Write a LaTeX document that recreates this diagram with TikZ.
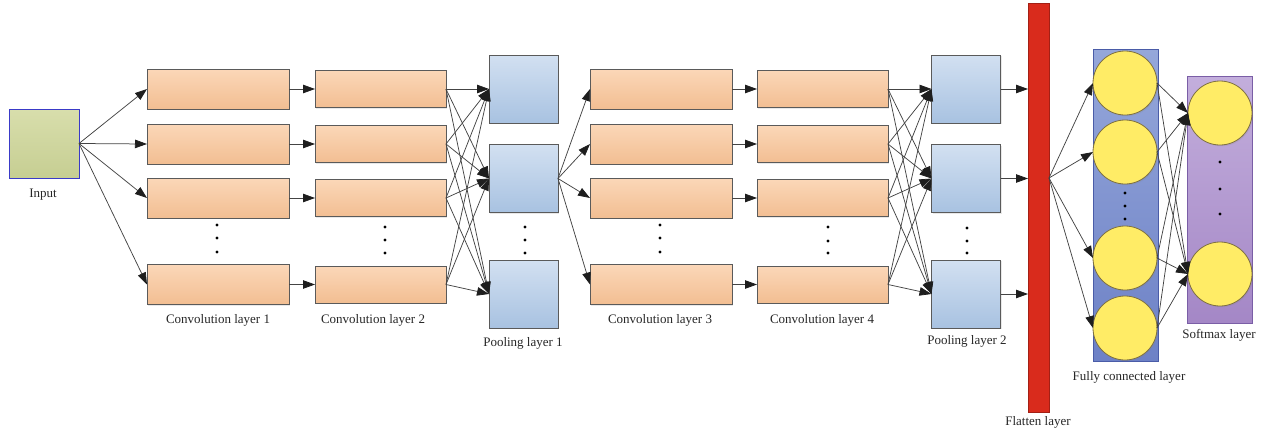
\documentclass[tikz,border=0pt]{standalone}
\usepackage{fontspec}
\setmainfont{Liberation Serif}
\usetikzlibrary{arrows.meta,shadows,calc}

\definecolor{convtop}{HTML}{FBD7B8}
\definecolor{convbot}{HTML}{F2BE92}
\definecolor{pooltop}{HTML}{D2E0F1}
\definecolor{poolbot}{HTML}{A8C2E1}
\definecolor{inputtop}{HTML}{D8DEAC}
\definecolor{inputbot}{HTML}{C6CE92}
\definecolor{inputedge}{HTML}{3A3AC8}
\definecolor{flatred}{HTML}{D92B1C}
\definecolor{fctop}{HTML}{95A7DA}
\definecolor{fcbot}{HTML}{6D81C6}
\definecolor{fcedge}{HTML}{4A5CA8}
\definecolor{smtop}{HTML}{C3AEDC}
\definecolor{smbot}{HTML}{A487C6}
\definecolor{smedge}{HTML}{7A5EA6}
\definecolor{neuron}{HTML}{FFEC66}
\definecolor{neuronedge}{HTML}{7E7040}
\definecolor{edgegrey}{HTML}{5A5A5A}
\definecolor{wiregrey}{HTML}{444444}
\definecolor{headblack}{HTML}{1E1E1E}

\tikzset{
  boxbase/.style={draw=edgegrey, line width=0.8pt, inner sep=0pt, outer sep=0pt,
    drop shadow={opacity=0.18, shadow xshift=1.2pt, shadow yshift=-1.2pt}},
  conva/.style={boxbase, top color=convtop, bottom color=convbot,
    minimum width=142pt, minimum height=40pt},
  convb/.style={boxbase, top color=convtop, bottom color=convbot,
    minimum width=131pt, minimum height=37pt},
  poolbox/.style={boxbase, top color=pooltop, bottom color=poolbot,
    minimum width=69pt, minimum height=68pt},
  neuronnode/.style={circle, draw=neuronedge, fill=neuron, line width=0.8pt,
    minimum size=64pt, inner sep=0pt, outer sep=0pt,
    drop shadow={opacity=0.18, shadow xshift=1.2pt, shadow yshift=-1.2pt}},
  wire/.style={draw=wiregrey, line width=0.75pt,
    -{Triangle[length=12pt,width=8.5pt,color=headblack,fill=headblack]}},
  lbl/.style={font=\fontsize{13}{15}\selectfont, text=black!85, inner sep=0pt},
  vdot/.style={circle, fill=black, inner sep=0pt, minimum size=3.2pt},
}

\begin{document}
\begin{tikzpicture}[x=1pt,y=-1pt]
\useasboundingbox (0,0) rectangle (1262,432);

% input image
\node[draw=inputedge, line width=1pt, top color=inputtop, bottom color=inputbot,
      minimum width=70pt, minimum height=69pt, inner sep=0pt, outer sep=0pt,
      drop shadow={opacity=0.18, shadow xshift=1.2pt, shadow yshift=-1.2pt}]
      (in) at (44,143.5) {};
\node[lbl] (inlbl) at (43,195) {Input};

% convolution columns
\foreach \i/\y in {1/89,2/144,3/198,4/284.5} {
  \node[conva] (ca\i) at (218,\y) {};
  \node[convb] (cb\i) at (380.5,\y) {};
  \node[conva] (cc\i) at (661,\y) {};
  \node[convb] (cd\i) at (822.5,\y) {};
}

% pooling columns
\foreach \j/\y in {1/89,2/178.5,3/294} {
  \node[poolbox] (pa\j) at (523.5,\y) {};
  \node[poolbox] (pb\j) at (966,\y) {};
}

% flatten layer
\node[fill=flatred, draw=flatred!75!black, line width=0.6pt,
      minimum width=21pt, minimum height=409pt, inner sep=0pt, outer sep=0pt]
      (fl) at (1038.5,207.5) {};

% fully connected layer
\node[draw=fcedge, line width=0.8pt, top color=fctop, bottom color=fcbot,
      minimum width=65pt, minimum height=312pt, inner sep=0pt, outer sep=0pt]
      (fcbox) at (1125.5,205) {};
\foreach \k/\y in {1/83,2/152,3/258,4/328}
  \node[neuronnode] (fc\k) at (1125,\y) {};

% softmax layer
\node[draw=smedge, line width=0.8pt, top color=smtop, bottom color=smbot,
      minimum width=65pt, minimum height=247pt, inner sep=0pt, outer sep=0pt]
      (smbox) at (1219.5,199.5) {};
\foreach \m/\y in {1/113,2/274}
  \node[neuronnode] (sm\m) at (1220,\y) {};

% vertical ellipses
\foreach \x/\a/\b/\c in {217/225/238/252, 385/227/240/253, 525/227/240/253,
                         660/225/238/252, 828/227/241/253, 967/228/241/253,
                         1125/193/206/219, 1220/162/189/214} {
  \node[vdot] at (\x,\a) {};
  \node[vdot] at (\x,\b) {};
  \node[vdot] at (\x,\c) {};
}

% connections
\foreach \i in {1,...,4} {
  \draw[wire] (in.east) -- (ca\i.west);
  \draw[wire] (ca\i.east) -- (cb\i.west);
  \draw[wire] (pa2.east) -- (cc\i.west);
  \draw[wire] (cc\i.east) -- (cd\i.west);
  \foreach \j in {1,2,3} {
    \draw[wire] (cb\i.east) -- (pa\j.west);
    \draw[wire] (cd\i.east) -- (pb\j.west);
  }
}
\foreach \j in {1,2,3}
  \draw[wire] (pb\j.east) -- (pb\j.east -| fl.west);

\coordinate (flout) at ($(fl.east)+(0,-29.5)$);
\foreach \k in {1,...,4} {
  \draw[wire] (flout) -- (fc\k.west);
  \foreach \m in {1,2}
    \draw[wire] (fc\k.east) -- (sm\m.west);
}

% layer captions
\node[lbl] (l1) at (218,320) {Convolution layer 1};
\node[lbl] (l2) at (373,320) {Convolution layer 2};
\node[lbl] (l3) at (523,343) {Pooling layer 1};
\node[lbl] (l4) at (660,320) {Convolution layer 3};
\node[lbl] (l5) at (822,320) {Convolution layer 4};
\node[lbl] (l6) at (967,341) {Pooling layer 2};
\node[lbl] (l7) at (1038,422) {Flatten layer};
\node[lbl] (l8) at (1129,377) {Fully connected layer};
\node[lbl] (l9) at (1219,335) {Softmax layer};
\end{tikzpicture}
\end{document}
